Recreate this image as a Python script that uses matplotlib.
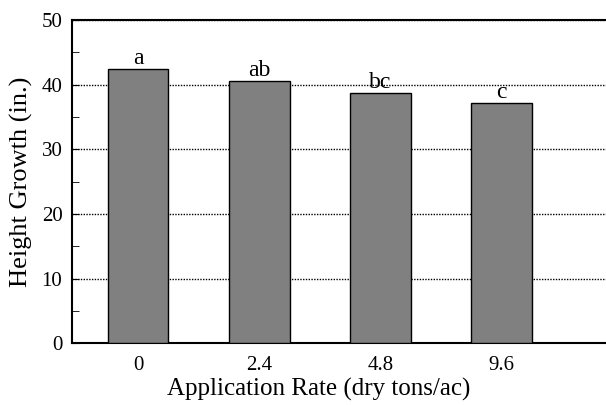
import numpy as np
import matplotlib.pyplot as plt
from matplotlib.ticker import MultipleLocator

plt.rcParams['font.family'] = ['Liberation Serif', 'DejaVu Serif']

# Data
rates = ['0', '2.4', '4.8', '9.6']
growth = [42.4, 40.5, 38.7, 37.1]
letters = ['a', 'ab', 'bc', 'c']

fig = plt.figure(figsize=(6.06, 4.05), dpi=100)
ax = fig.add_axes([0.119, 0.152, 0.881, 0.799])

x = np.arange(len(rates))
bars = ax.bar(x, growth, width=0.5, color='#808080', edgecolor='black', linewidth=1, zorder=3)

for xi, v, lab in zip(x, growth, letters):
    ax.annotate(lab, (xi, v), xytext=(0, 0), textcoords='offset points',
                ha='center', va='bottom', fontsize=17, zorder=4)

ax.set_xlim(-0.544, 3.86)
ax.set_ylim(0, 50)
ax.set_xticks(x)
ax.set_xticklabels(rates)
ax.yaxis.set_major_locator(MultipleLocator(10))
ax.yaxis.set_minor_locator(MultipleLocator(5))
ax.tick_params(axis='y', which='both', direction='in', labelsize=15, pad=7)
ax.tick_params(axis='y', which='major', length=5)
ax.tick_params(axis='y', which='minor', length=5)
ax.tick_params(axis='x', length=0, labelsize=15, pad=9)

ax.grid(axis='y', which='major', linestyle=(0, (1, 1)), color='black', linewidth=1, zorder=0)

ax.spines['right'].set_visible(False)
for s in ['left', 'top', 'bottom']:
    ax.spines[s].set_linewidth(1.5)

ax.set_xlabel('Application Rate (dry tons/ac)', fontsize=18, labelpad=3)
ax.xaxis.set_label_coords(0.4625, -0.105)
ax.set_ylabel('Height Growth (in.)', fontsize=19)
ax.yaxis.set_label_coords(-0.073, 0.5)

fig.savefig('out.png', dpi=100)
